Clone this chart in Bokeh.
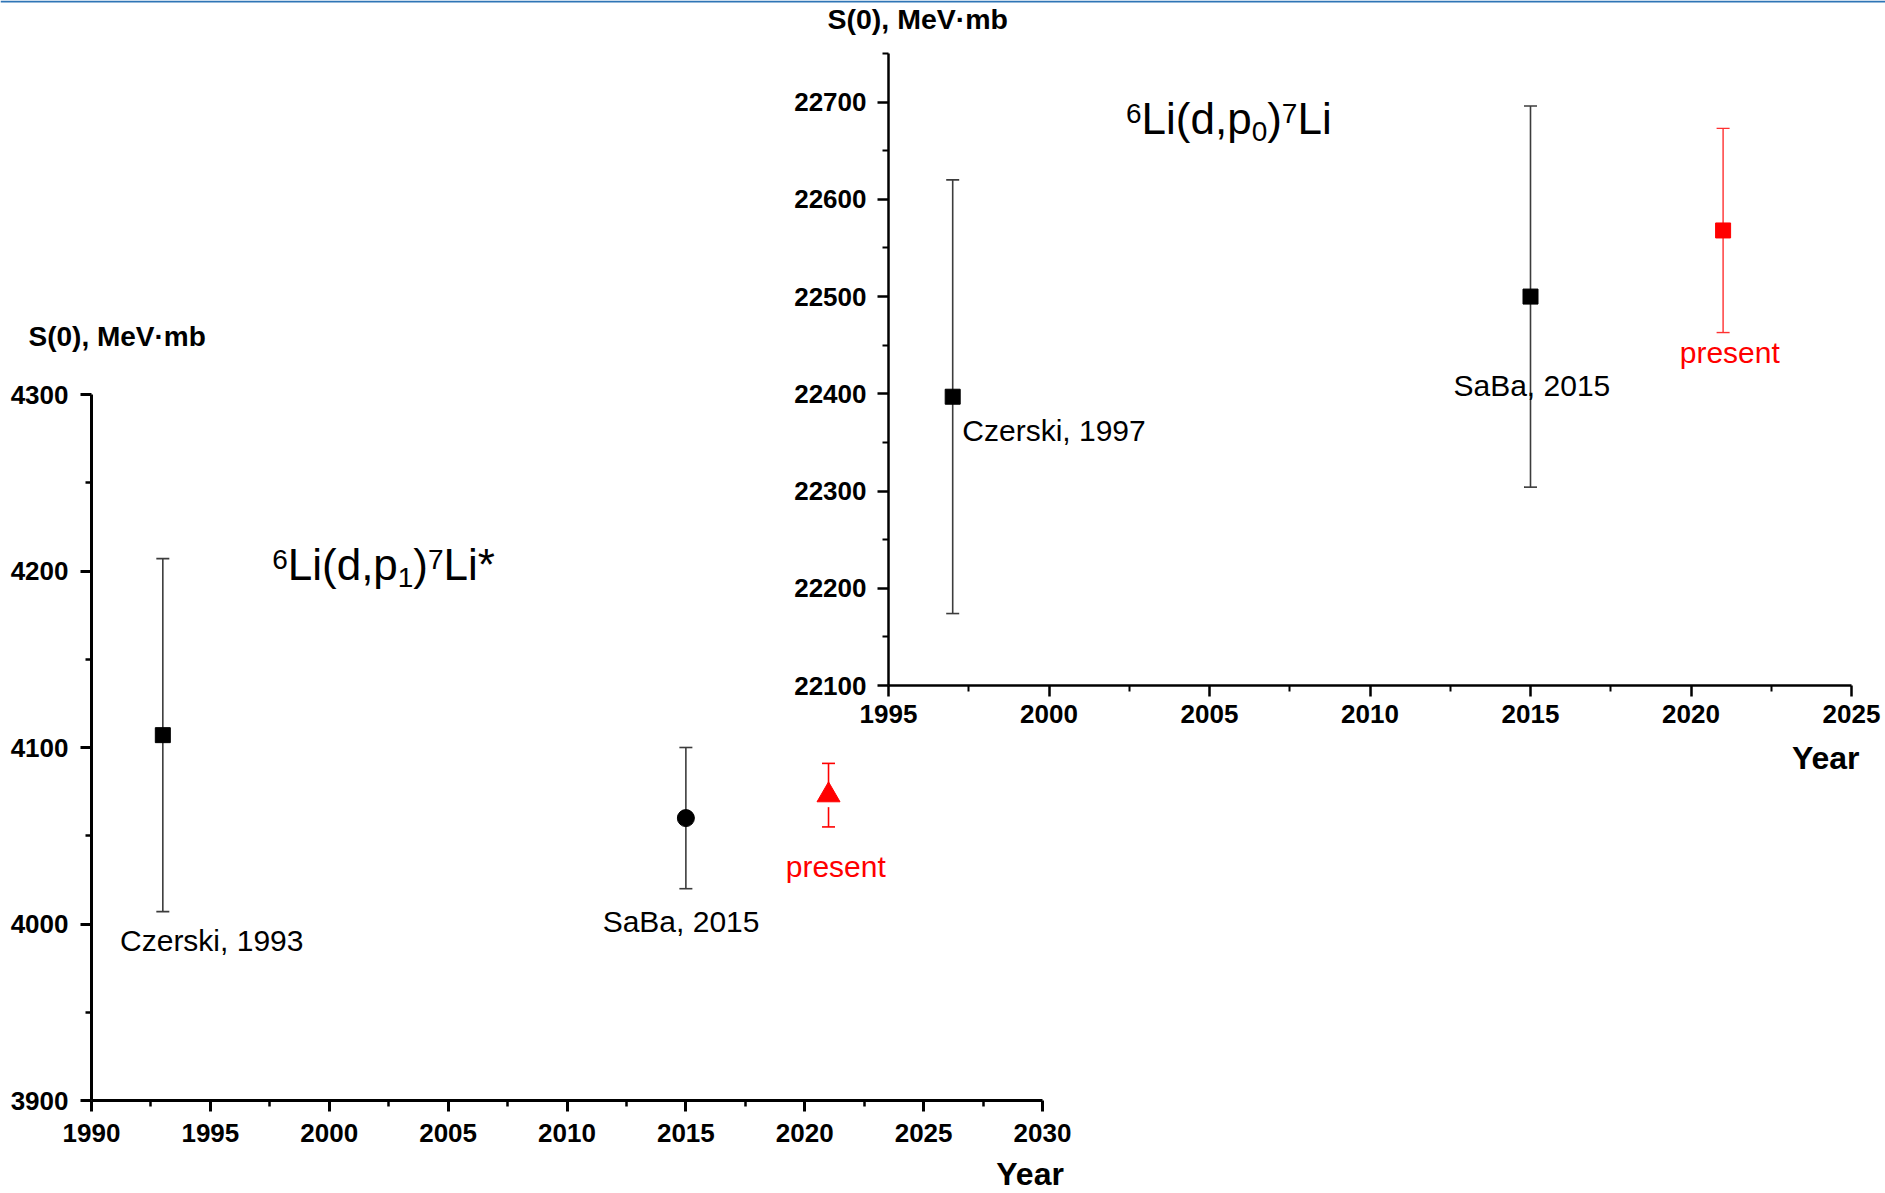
from bokeh.plotting import figure
from bokeh.models import (Range1d, LinearAxis, FixedTicker, Whisker, TeeHead,
                          ColumnDataSource, Label, Span)
from bokeh.embed import file_html
from bokeh.resources import INLINE

# ---- 6Li(d,p1)7Li* : astrophysical S-factor at zero energy ----
p1_years = [1993, 2015, 2021]
p1_s0 = [4107, 4060, 4073]
p1_err = [100, 40, 18]
p1_refs = ["Czerski, 1993", "SaBa, 2015", "present"]

# ---- 6Li(d,p0)7Li ----
p0_years = [1997, 2015, 2021]
p0_s0 = [22397, 22500, 22568]
p0_err = [223, 196, 105]
p0_refs = ["Czerski, 1997", "SaBa, 2015", "present"]

left_xticks = [1990, 1995, 2000, 2005, 2010, 2015, 2020, 2025, 2030]
left_yticks = [3900, 4000, 4100, 4200, 4300]
right_xticks = [1995, 2000, 2005, 2010, 2015, 2020, 2025]
right_yticks = [22100, 22200, 22300, 22400, 22500, 22600, 22700]

FONT = "Liberation Sans"

# the plotting frame covers the whole page; both charts share it
W, H = 1885, 1193


def span(v0, v1, p0, p1, total):
    """Range whose values v0, v1 land at pixel offsets p0, p1 of a frame side."""
    k = (v1 - v0) / (p1 - p0)
    return Range1d(start=v0 - p0 * k, end=v0 + (total - p0) * k), 1.0 / k


# left chart (offsets from the left / bottom edge)
lx_range, lx_ppu = span(1990, 2030, 91, 1042, W)
ly_range, ly_ppu = span(3900, 4300, 93, 799, H)
# right chart
rx_range, rx_ppu = span(1995, 2025, 888, 1851, W)
ry_range, ry_ppu = span(22100, 22750, 508, 1140, H)

p = figure(frame_width=W, frame_height=H, min_border=0, title=None,
           x_range=lx_range, y_range=ly_range,
           x_axis_type=None, y_axis_type=None,
           output_backend="svg", toolbar_location=None)
p.outline_line_color = None
p.background_fill_color = "white"
p.border_fill_color = "white"
p.extra_x_ranges = {"r": rx_range}
p.extra_y_ranges = {"r": ry_range}
R = dict(x_range_name="r", y_range_name="r")

# thin blue rule along the top edge
p.add_layout(Span(location=ly_range.end - 1.0 / ly_ppu, dimension="width",
                  line_color="#2e75b6", line_width=2))


def halves(ticks):
    step = ticks[1] - ticks[0]
    return [t + step / 2 for t in ticks[:-1]]


def style_axis(ax, width, standoff):
    ax.axis_line_width = width
    ax.axis_line_color = "black"
    ax.major_tick_line_width = width
    ax.minor_tick_line_width = width - 0.5
    ax.major_tick_in = 0
    ax.major_tick_out = 11
    ax.minor_tick_in = 0
    ax.minor_tick_out = 6
    ax.major_label_text_font = FONT
    ax.major_label_text_font_style = "bold"
    ax.major_label_text_font_size = "26px"
    ax.major_label_text_color = "black"
    ax.major_label_standoff = standoff


ax = LinearAxis(ticker=FixedTicker(ticks=left_xticks, minor_ticks=halves(left_xticks)),
                bounds=(left_xticks[0], left_xticks[-1]),
                fixed_location=left_yticks[0])
style_axis(ax, 3, 12)
p.add_layout(ax, "below")

ay = LinearAxis(ticker=FixedTicker(ticks=left_yticks, minor_ticks=halves(left_yticks)),
                bounds=(left_yticks[0], left_yticks[-1]),
                fixed_location=left_xticks[0])
style_axis(ay, 3, 12)
p.add_layout(ay, "left")

rax = LinearAxis(ticker=FixedTicker(ticks=right_xticks, minor_ticks=halves(right_xticks)),
                 bounds=(right_xticks[0], right_xticks[-1]),
                 fixed_location=right_yticks[0], **R)
style_axis(rax, 2.5, 8)
p.add_layout(rax, "below")

ry_minor = halves(right_yticks) + [right_yticks[-1] + 50]
ray = LinearAxis(ticker=FixedTicker(ticks=right_yticks, minor_ticks=ry_minor),
                 bounds=(right_yticks[0], ry_minor[-1]),
                 fixed_location=right_xticks[0], **R)
style_axis(ray, 2.5, 11)
p.add_layout(ray, "left")


def error_bars(years, s0, err, idx, color, width, **names):
    src = ColumnDataSource(dict(
        x=[years[i] for i in idx],
        upper=[s0[i] + err[i] for i in idx],
        lower=[s0[i] - err[i] for i in idx]))
    head = dict(size=13, line_color=color, line_width=width)
    w = Whisker(source=src, base="x", upper="upper", lower="lower",
                dimension="height", line_color=color, line_width=width,
                upper_head=TeeHead(**head), lower_head=TeeHead(**head), **names)
    p.add_layout(w)


GREY = "#3c3c3c"
RED = "#ff0000"

# left chart marks
error_bars(p1_years, p1_s0, p1_err, [0, 1], GREY, 1.6)
error_bars(p1_years, p1_s0, p1_err, [2], RED, 1.6)
p.scatter([p1_years[0]], [p1_s0[0]], marker="square", size=15, color="black")
p.scatter([p1_years[1]], [p1_s0[1]], marker="circle", size=17, color="black")
# small break in the error bar just under the triangle's base
p.rect([p1_years[2]], [p1_s0[2] - 9 / ly_ppu], width=6, height=6,
       width_units="screen", height_units="screen",
       fill_color="white", line_color=None)
p.scatter([p1_years[2]], [p1_s0[2]], marker="triangle", size=23, color=RED)

# right chart marks
error_bars(p0_years, p0_s0, p0_err, [0, 1], GREY, 1.6, **R)
error_bars(p0_years, p0_s0, p0_err, [2], "#ff3030", 1.4, **R)
p.scatter(p0_years[:2], p0_s0[:2], marker="square", size=15, color="black", **R)
p.scatter([p0_years[2]], [p0_s0[2]], marker="square", size=15, color=RED, **R)


def put(x, y, ppu, text, size, color="black", bold=False, align="left", dx=0.0, **names):
    # y is the text baseline; lift the anchor to land the glyphs on it
    p.add_layout(Label(x=x, y=y + 0.38 * size / ppu, x_offset=dx, text=text,
                       text_font=FONT, text_font_size=f"{size}px",
                       text_color=color, text_align=align,
                       text_baseline="alphabetic",
                       text_font_style="bold" if bold else "normal", **names))


# point annotations (left chart)
put(1991.2, 3984, ly_ppu, p1_refs[0], 30)
put(2011.5, 3995, ly_ppu, p1_refs[1], 30)
put(2019.2, 4026, ly_ppu, p1_refs[2], 30, color=RED)
# point annotations (right chart)
put(1997.3, 22351, ry_ppu, p0_refs[0], 30, **R)
put(2012.6, 22397, ry_ppu, p0_refs[1], 30, **R)
put(2019.65, 22431, ry_ppu, p0_refs[2], 30, color=RED, **R)

# axis titles
put(1987.35, 4327, ly_ppu, "S(0), MeV\u00b7mb", 28, bold=True)
put(2030.9, 3851.5, ly_ppu, "Year", 32, bold=True, align="right")
put(1993.1, 22774, ry_ppu, "S(0), MeV\u00b7mb", 28.5, bold=True, **R)
put(2025.25, 22013, ry_ppu, "Year", 32, bold=True, align="right", **R)

# reaction formulas with raised / lowered indices
ARIAL_W = {"L": .556, "i": .222, "(": .333, ")": .333, "d": .556, ",": .278,
           "p": .556, "*": .389}
MAIN, SMALL = 44, 28


def width(s, size):
    return sum(ARIAL_W.get(c, .556) for c in s) * size


def formula(parts, x, y, ppu, **names):
    off = 0.0
    for text, kind in parts:
        size = MAIN if kind == "main" else SMALL
        lift = {"main": 0, "sup": 11, "sub": -7}[kind] / ppu
        put(x, y + lift, ppu, text, size, dx=off, **names)
        off += width(text, size)


formula([("6", "sup"), ("Li(d,p", "main"), ("1", "sub"), (")", "main"),
         ("7", "sup"), ("Li*", "main")], 1997.6, 4194, ly_ppu)
formula([("6", "sup"), ("Li(d,p", "main"), ("0", "sub"), (")", "main"),
         ("7", "sup"), ("Li", "main")], 2002.4, 22666, ry_ppu, **R)

open("out.html", "w").write(file_html(p, INLINE))
